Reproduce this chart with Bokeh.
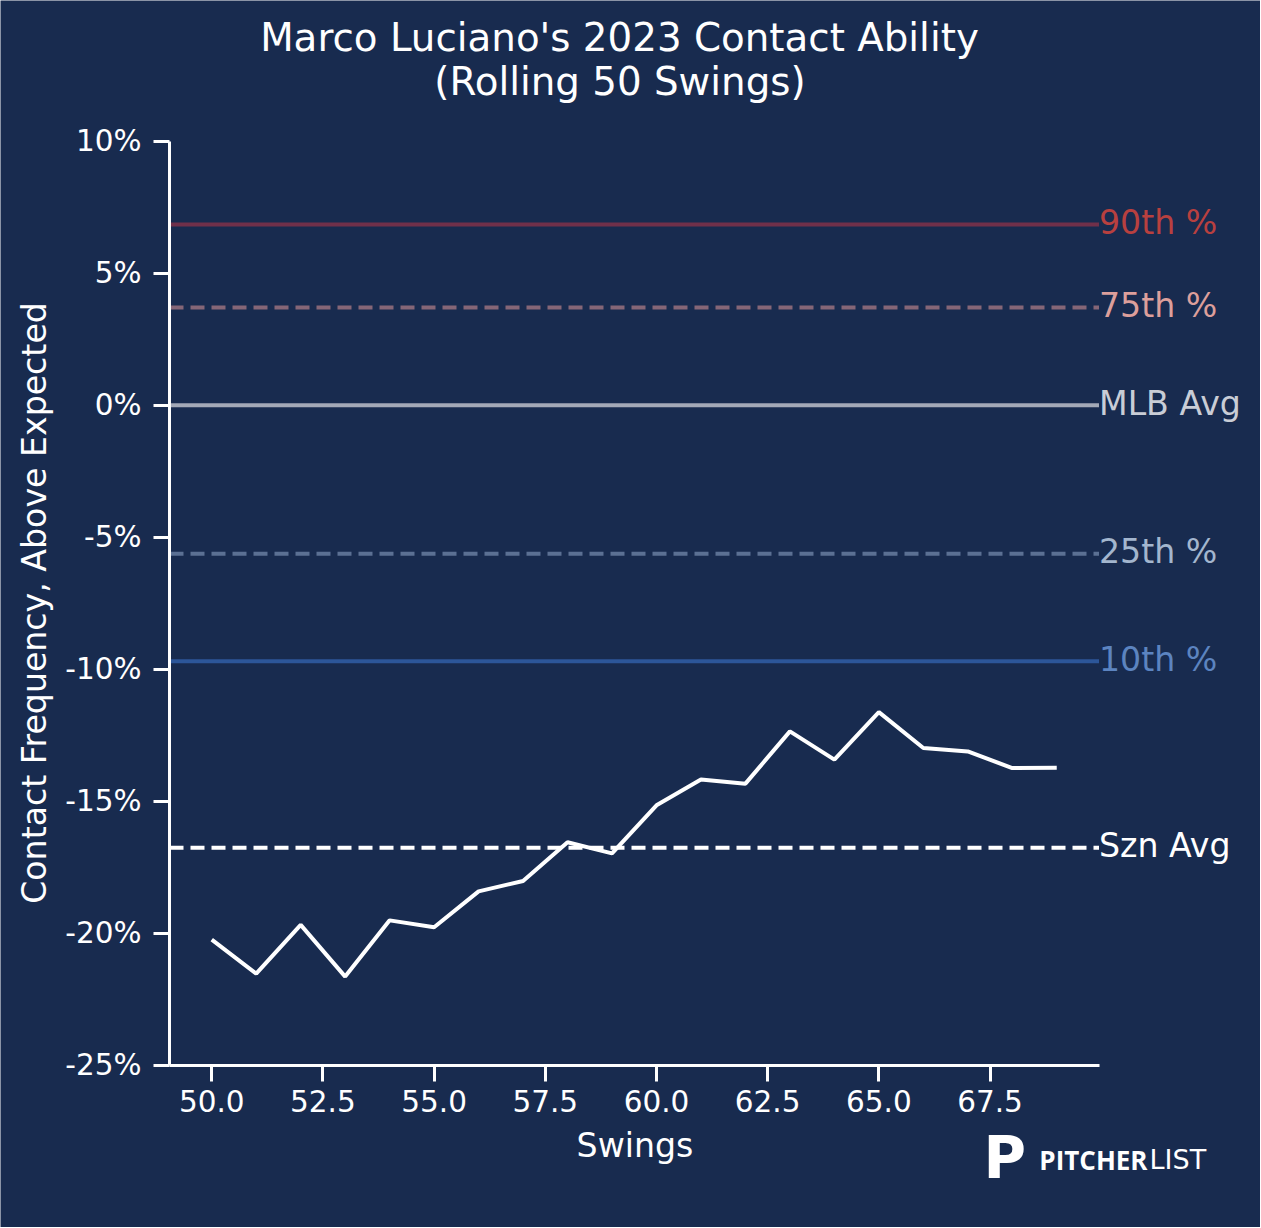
import math
from bokeh.plotting import figure
from bokeh.models import Range1d, Label, FixedTicker, PrintfTickFormatter, LinearAxis
from bokeh.embed import file_html
from bokeh.resources import INLINE

# ---------------- data ----------------
swings = [50, 51, 52, 53, 54, 55, 56, 57, 58, 59,
          60, 61, 62, 63, 64, 65, 66, 67, 68, 69]
contact_above_expected = [-20.25, -21.54, -19.69, -21.65, -19.52, -19.78, -18.42, -18.03, -16.56, -16.98,
                          -15.16, -14.18, -14.34, -12.36, -13.43, -11.63, -12.99, -13.12, -13.75, -13.74]
ref_names = ["90th %", "75th %", "MLB Avg", "25th %", "10th %", "Szn Avg"]
ref_values = [6.84, 3.70, 0.0, -5.63, -9.70, -16.77]
x_ticks = [50.0, 52.5, 55.0, 57.5, 60.0, 62.5, 65.0, 67.5]
y_ticks = [-25, -20, -15, -10, -5, 0, 5, 10]
title_lines = ["Marco Luciano's 2023 Contact Ability", "(Rolling 50 Swings)"]
x_label = "Swings"
y_label = "Contact Frequency, Above Expected"

# ---------------- styles ----------------
BG = "#182b4f"
FONT = "DejaVu Sans"
ref_line_colors = ["#70304a", "#856677", "#a3a9b7", "#5b7093", "#2c5699", "#ffffff"]
ref_text_colors = ["#b8403f", "#dc9f9b", "#c9cdd6", "#a3b6ce", "#5c84c0", "#ffffff"]
ref_dashes = ["solid", "14 7", "solid", "14 7", "solid", "14 7"]

# axes limits (data) and where they sit on the page (pixels)
X0, X1 = 49.05, 69.95
Y0, Y1 = -25, 10
FL, FR = 169.0, 1098.5
FT, FB = 140.7, 1064.5
W, H = 1260, 1227
SX = (X1 - X0) / (FR - FL)
SY = (Y1 - Y0) / (FB - FT)

def dx(xp):
    return X0 + (xp - FL) * SX

def dy(yp):
    return Y1 - (yp - FT) * SY

p = figure(width=W, height=H,
           x_range=Range1d(dx(0), dx(W)), y_range=Range1d(dy(H), dy(0)),
           output_backend="svg", toolbar_location=None,
           x_axis_location=None, y_axis_location=None,
           min_border=0, min_border_left=0, min_border_right=0,
           min_border_top=0, min_border_bottom=0)
p.background_fill_color = BG
p.border_fill_color = BG
p.outline_line_color = None
p.grid.visible = False

xaxis = LinearAxis(fixed_location=Y0, bounds=(X0, X1),
                   ticker=FixedTicker(ticks=x_ticks), formatter=PrintfTickFormatter(format="%.1f"))
yaxis = LinearAxis(fixed_location=X0, bounds=(Y0, Y1),
                   ticker=FixedTicker(ticks=y_ticks), formatter=PrintfTickFormatter(format="%d%%"))
for ax in (xaxis, yaxis):
    ax.axis_line_color = "white"
    ax.axis_line_width = 3
    ax.major_tick_line_color = "white"
    ax.major_tick_line_width = 3
    ax.major_tick_out = 16
    ax.major_tick_in = 0
    ax.minor_tick_line_color = None
    ax.major_label_text_color = "white"
    ax.major_label_text_font = FONT
    ax.major_label_text_font_size = "29.5px"
xaxis.major_label_standoff = 9
yaxis.major_label_standoff = 12
p.add_layout(xaxis, "below")
p.add_layout(yaxis, "left")

# reference lines (drawn across the axes' extent)
for name, val, lc, tc, dash in zip(ref_names, ref_values, ref_line_colors, ref_text_colors, ref_dashes):
    p.segment(x0=[X0], x1=[X1], y0=[val], y1=[val], line_color=lc, line_width=4, line_dash=dash)
    p.add_layout(Label(x=X1, y=val, text=name, text_color=tc, text_font=FONT,
                       text_font_size="33.2px", text_align="left", text_baseline="middle",
                       x_offset=0, y_offset=2))

# rolling line
p.line(swings, contact_above_expected, line_color="white", line_width=4)

def text_label(xp, yp, text, size, font=FONT, style="normal", align="center", angle=0.0):
    return Label(x=dx(xp), y=dy(yp), text=text, text_color="white", text_font=font,
                 text_font_style=style, text_font_size=f"{size}px", text_align=align,
                 text_baseline="middle", angle=angle)

# titles (positions are text centres on the page)
p.add_layout(text_label(619, 37, title_lines[0], 38.8))
p.add_layout(text_label(619.5, 81, title_lines[1], 38.8))

# axis labels
p.add_layout(text_label(634.5, 1144.5, x_label, 33.2))
p.add_layout(text_label(34, 602.5, y_label, 33.2, angle=math.pi / 2))

# logo
p.add_layout(text_label(983, 1157, "P", 58, style="bold", align="left"))
p.add_layout(text_label(1147, 1159, "PITCHER", 26, font="Open Sans", style="bold", align="right"))
p.add_layout(text_label(1149, 1159, "LIST", 27, align="left"))

open("out.html", "w").write(file_html(p, INLINE))
